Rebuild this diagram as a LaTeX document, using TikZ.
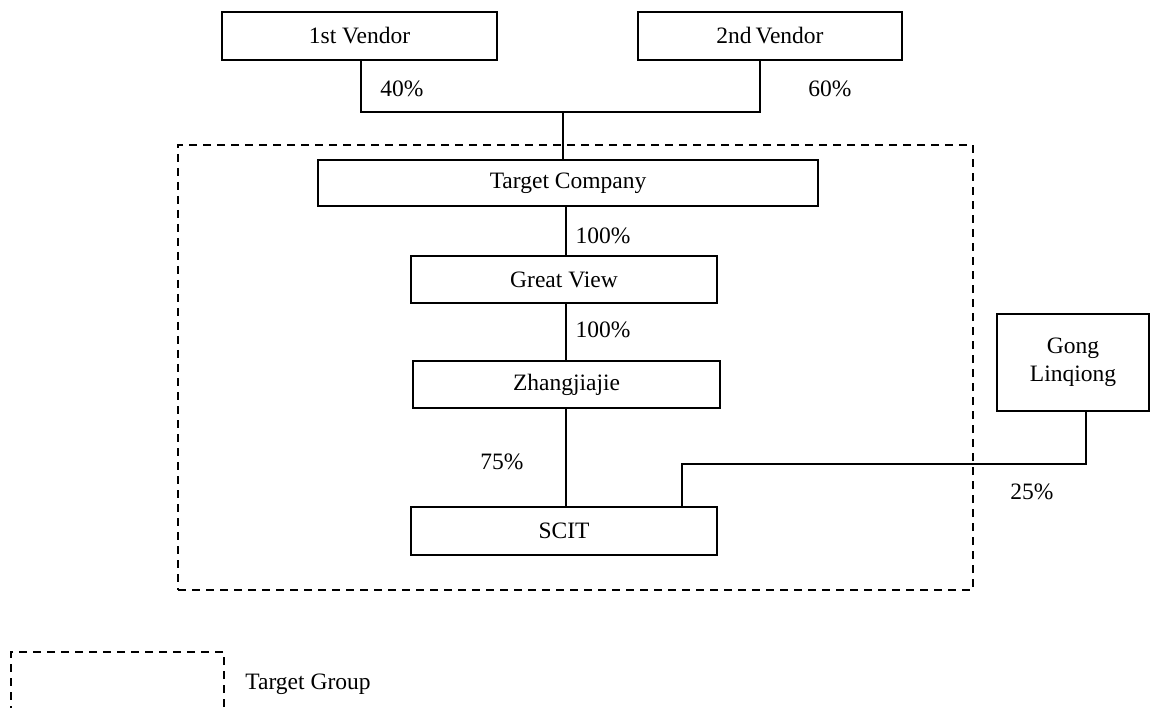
\documentclass[tikz,border=0pt]{standalone}
\usepackage{fontspec}
\setmainfont{Liberation Serif}
\begin{document}
\begin{tikzpicture}[x=1pt,y=-1pt,
  box/.style={draw,line width=1.2pt,inner sep=0pt,align=center,font=\fontsize{23.5}{28}\selectfont},
  lbl/.style={inner sep=0pt,font=\fontsize{23.5}{28}\selectfont},
  conn/.style={line width=1.2pt},
  grpbox/.style={draw,line width=1.3pt,dash pattern=on 8pt off 6pt,inner sep=0pt}]
\useasboundingbox (0,0) rectangle (1150,708);
% group frame
\node[grpbox,minimum width=795pt,minimum height=445pt] (grp) at (575.5,367.5) {};
% boxes
\node[box,minimum width=275pt,minimum height=48pt] (v1) at (359.5,36) {1st Vendor};
\node[box,minimum width=264pt,minimum height=48pt] (v2) at (770,36) {2nd\,Vendor};
\node[box,minimum width=500pt,minimum height=46pt] (tc) at (568,183) {Target Company};
\node[box,minimum width=306pt,minimum height=47pt] (gv) at (564,279.5) {Great View};
\node[box,minimum width=307pt,minimum height=47pt] (zh) at (566.5,384.5) {Zhangjiajie};
\node[box,minimum width=306pt,minimum height=48pt] (sc) at (564,531) {SCIT};
\node[box,minimum width=152pt,minimum height=97pt] (gl) at (1073,362.5) {Gong\\Linqiong};
% legend
\node[grpbox,minimum width=213pt,minimum height=66pt] (leg) at (117.5,685) {};
\node[lbl] (legt) at (308,684) {Target Group};
% connectors
\coordinate (j) at (563,112);
\coordinate (k) at (682,464);
\coordinate (zx) at (566,0);
\draw[conn] (v1.south -| 361,0) |- (j) -| (v2.south -| 760,0);
\draw[conn] (j) -- (j |- tc.north);
\draw[conn] (tc.south -| zx) -- (gv.north -| zx);
\draw[conn] (gv.south -| zx) -- (zh.north -| zx);
\draw[conn] (zh.south -| zx) -- (sc.north -| zx);
\draw[conn] (gl.south -| 1086,0) |- (k) -- (k |- sc.north);
% labels
\node[lbl] (p40) at (402,89) {40\%};
\node[lbl] (p60) at (830,89) {60\%};
\node[lbl] (p100a) at (603,236) {100\%};
\node[lbl] (p100b) at (603,330) {100\%};
\node[lbl] (p75) at (502,462) {75\%};
\node[lbl] (p25) at (1032,492) {25\%};
\end{tikzpicture}
\end{document}
